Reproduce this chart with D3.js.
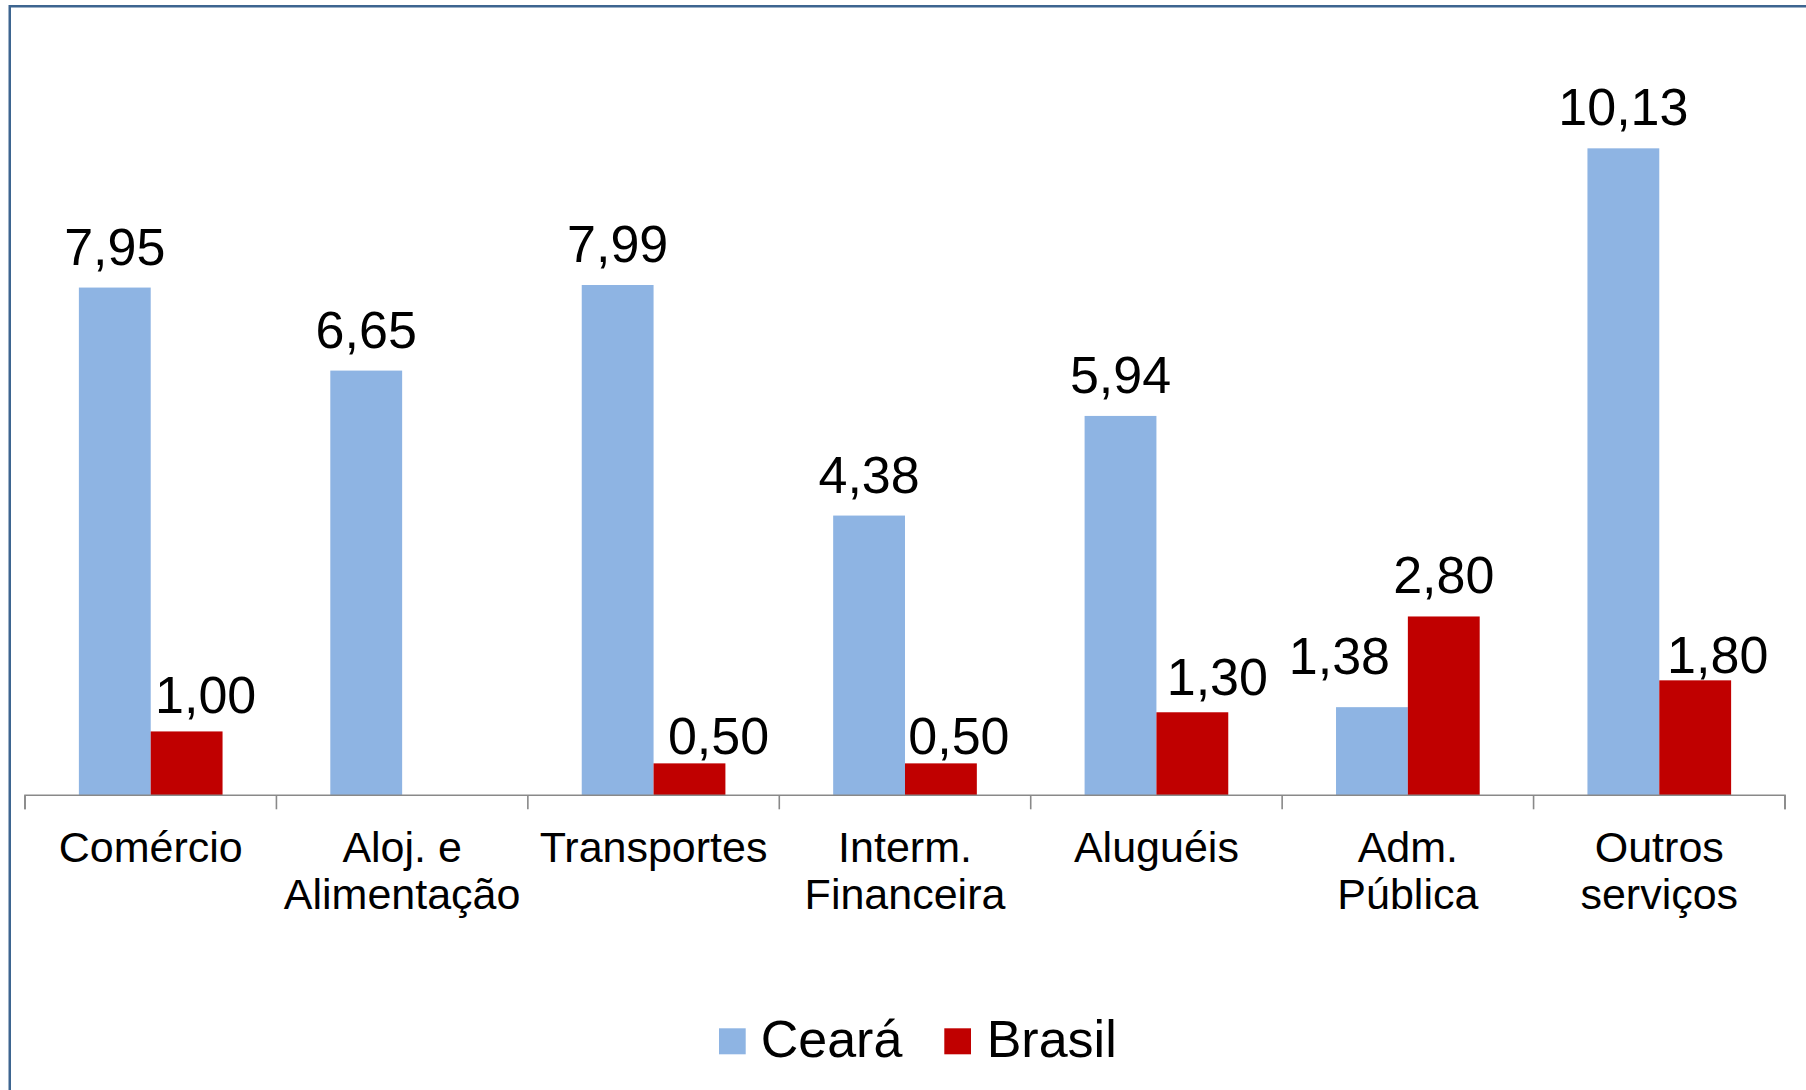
<!DOCTYPE html>
<html>
<head>
<meta charset="utf-8">
<script src="https://cdn.jsdelivr.net/npm/d3@7"></script>
<style>
  html, body { margin: 0; padding: 0; background: #ffffff; }
  svg { display: block; }
  text { font-family: "Liberation Sans", Arial, sans-serif; fill: #000; }
</style>
</head>
<body>
<svg id="chart" width="1806" height="1090"></svg>
<script>
// ---- data ----
const categories = [
  ["Comércio"],
  ["Aloj. e", "Alimentação"],
  ["Transportes"],
  ["Interm.", "Financeira"],
  ["Aluguéis"],
  ["Adm.", "Pública"],
  ["Outros", "serviços"]
];
const seriesNames = ["Ceará", "Brasil"];
const cearaValues = [7.95, 6.65, 7.99, 4.38, 5.94, 1.38, 10.13];
const brasilValues = [1.00, null, 0.50, 0.50, 1.30, 2.80, 1.80];
const valueLabelsCeara = ["7,95", "6,65", "7,99", "4,38", "5,94", "1,38", "10,13"];
const valueLabelsBrasil = ["1,00", null, "0,50", "0,50", "1,30", "2,80", "1,80"];

// ---- styling / layout ----
const colors = { "Ceará": "#8EB4E3", "Brasil": "#C00000" };
const plot = { left: 25, right: 1785, top: 28.9, bottom: 795.3 };
// manual label nudges (dx, dy) as placed in the original
const labelNudge = {
  "Ceará-5": [-32.5, -10],
  "Brasil-0": [19, 5],
  "Brasil-2": [29, 14],
  "Brasil-3": [18, 14],
  "Brasil-4": [25, 6],
  "Brasil-6": [22.5, 16]
};

const svg = d3.select("#chart");

// border frame
svg.append("rect")
  .attr("x", 9.75).attr("y", 6.25)
  .attr("width", 1806).attr("height", 1100)
  .attr("fill", "none")
  .attr("stroke", "#3d6590")
  .attr("stroke-width", 2.5);

const catIdx = d3.range(categories.length);
const x0 = d3.scaleBand().domain(catIdx).range([plot.left, plot.right]).padding(0);
const x1 = d3.scaleBand().domain(seriesNames).range([0, x0.bandwidth()])
  .paddingInner(0).paddingOuter(0.75);
const y = d3.scaleLinear().domain([0, 12]).range([plot.bottom, plot.top]);

const rows = [];
catIdx.forEach(i => {
  rows.push({ s: "Ceará", i, v: cearaValues[i], lab: valueLabelsCeara[i] });
  rows.push({ s: "Brasil", i, v: brasilValues[i], lab: valueLabelsBrasil[i] });
});
const valid = rows.filter(d => d.v != null);

// bars
svg.append("g").selectAll("rect")
  .data(valid).join("rect")
  .attr("x", d => x0(d.i) + x1(d.s))
  .attr("y", d => y(d.v))
  .attr("width", x1.bandwidth())
  .attr("height", d => y(0) - y(d.v))
  .attr("fill", d => colors[d.s]);

// x axis
const axis = d3.axisBottom(x0).tickSize(14).tickFormat("");
const gx = svg.append("g")
  .attr("transform", `translate(0,${plot.bottom})`)
  .call(axis);
gx.select(".domain").attr("stroke", "#898989").attr("stroke-width", 1.6)
  .attr("d", `M${plot.left},14V0H${plot.right}V14`);
gx.selectAll(".tick").remove();
// boundary ticks between categories
const boundaries = d3.range(categories.length + 1).map(k => plot.left + k * x0.step());
svg.append("g").selectAll("line")
  .data(boundaries).join("line")
  .attr("x1", d => d).attr("x2", d => d)
  .attr("y1", plot.bottom).attr("y2", plot.bottom + 14)
  .attr("stroke", "#898989").attr("stroke-width", 1.6);

// category labels
const catG = svg.append("g");
catIdx.forEach(i => {
  const t = catG.append("text")
    .attr("x", x0(i) + x0.bandwidth() / 2)
    .attr("y", 861.7)
    .attr("text-anchor", "middle")
    .attr("font-size", 43);
  categories[i].forEach((line, k) => {
    t.append("tspan")
      .attr("x", x0(i) + x0.bandwidth() / 2)
      .attr("dy", k === 0 ? 0 : 47.7)
      .text(line);
  });
});

// value labels
svg.append("g").selectAll("text")
  .data(valid).join("text")
  .attr("x", d => x0(d.i) + x1(d.s) + x1.bandwidth() / 2 + ((labelNudge[d.s + "-" + d.i] || [0, 0])[0]))
  .attr("y", d => y(d.v) - 23 + ((labelNudge[d.s + "-" + d.i] || [0, 0])[1]))
  .attr("text-anchor", "middle")
  .attr("font-size", 52)
  .text(d => d.lab);

// legend
const legendItems = [
  { name: "Ceará", sx: 719, tx: 760.7 },
  { name: "Brasil", sx: 944.3, tx: 986.7 }
];
const lg = svg.append("g");
legendItems.forEach(it => {
  lg.append("rect")
    .attr("x", it.sx).attr("y", 1028.3)
    .attr("width", 26.7).attr("height", 26)
    .attr("fill", colors[it.name]);
  lg.append("text")
    .attr("x", it.tx).attr("y", 1056.7)
    .attr("font-size", 52)
    .text(it.name);
});
</script>
</body>
</html>
